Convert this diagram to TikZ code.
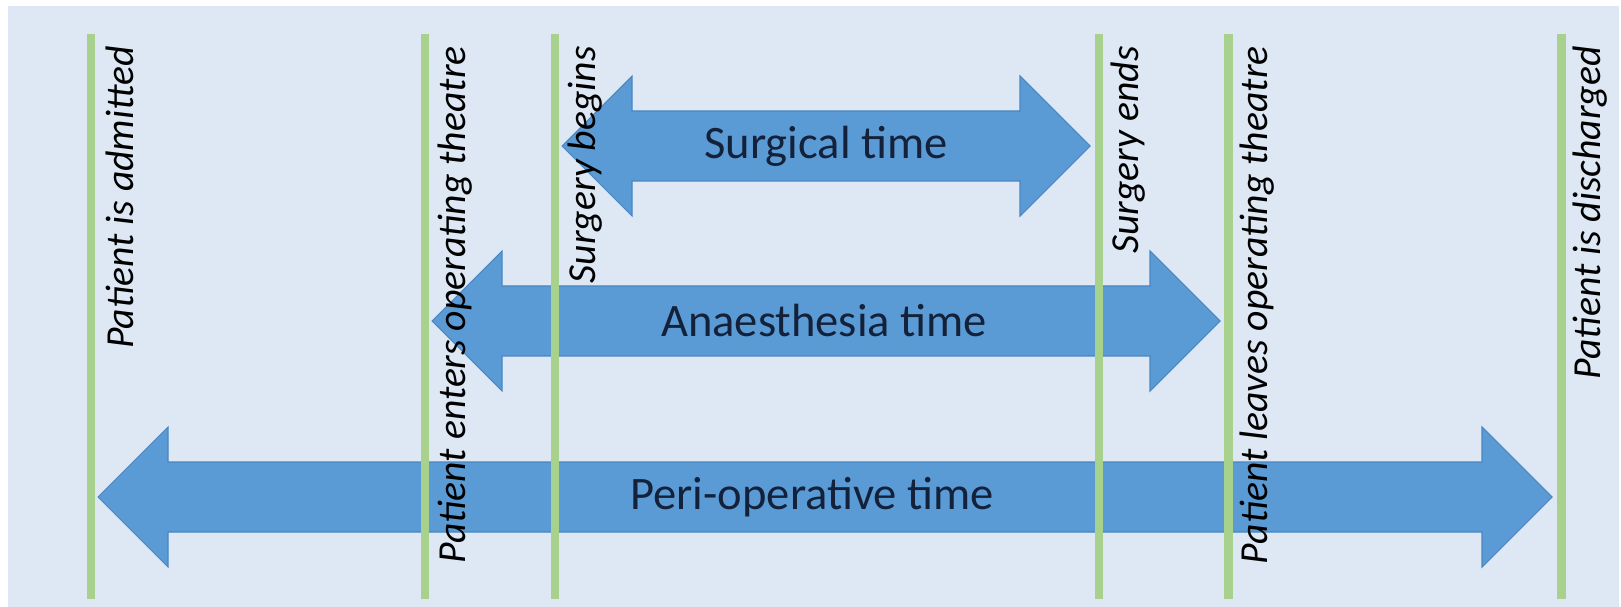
\documentclass[tikz,border=0pt]{standalone}
\usepackage{fontspec}
\setmainfont{Carlito}
\definecolor{panelblue}{HTML}{DDE8F4}
\definecolor{arrowblue}{HTML}{5B9BD5}
\definecolor{arrowedge}{HTML}{4A87C2}
\definecolor{eventgreen}{HTML}{A9D18E}
\definecolor{labelnavy}{HTML}{14213A}
\begin{document}
\begin{tikzpicture}[x=0.02cm,y=-0.02cm,
    event/.style={eventgreen,line width=5.1pt},
    evlabel/.style={rotate=90,anchor=east,inner sep=0pt,font=\fontsize{22.6}{26}\selectfont\itshape},
    span/.style={fill=arrowblue,draw=arrowedge,line width=0.6pt,line join=miter},
    spanlabel/.style={text=labelnavy,font=\fontsize{26.5}{30}\selectfont}]
  \useasboundingbox (0,0) rectangle (1621,607);
  \fill[white] (0,0) rectangle (1621,607);
  \fill[panelblue] (8,6) rectangle (1619,607);
  \foreach \l/\r/\y in {562/1090/146, 432/1220/321, 98/1552/497}
    \draw[span] (\l,\y) -- (\l+70,\y-70) -- (\l+70,\y-35) -- (\r-70,\y-35) -- (\r-70,\y-70)
      -- (\r,\y) -- (\r-70,\y+70) -- (\r-70,\y+35) -- (\l+70,\y+35) -- (\l+70,\y+70) -- cycle;
  \foreach \x in {91,425,555,1099,1228,1561} \draw[event] (\x,34) -- (\x,599);
  \node[spanlabel] (surgical) at (826,146) {Surgical time};
  \node[spanlabel] (anaesthesia) at (824,321) {Anaesthesia time};
  \node[spanlabel] (periop) at (812,497) {Peri-operative time};
  \node[evlabel] (admitted) at (120,46) {Patient is admitted};
  \node[evlabel] (enters) at (455,46) {Patient enters operating theatre};
  \node[evlabel] (begins) at (585,46) {Surgery begins};
  \node[evlabel] (ends) at (1128,46) {Surgery ends};
  \node[evlabel] (leaves) at (1257,46) {Patient leaves operating theatre};
  \node[evlabel] (discharged) at (1590,46) {Patient is discharged};
\end{tikzpicture}
\end{document}
